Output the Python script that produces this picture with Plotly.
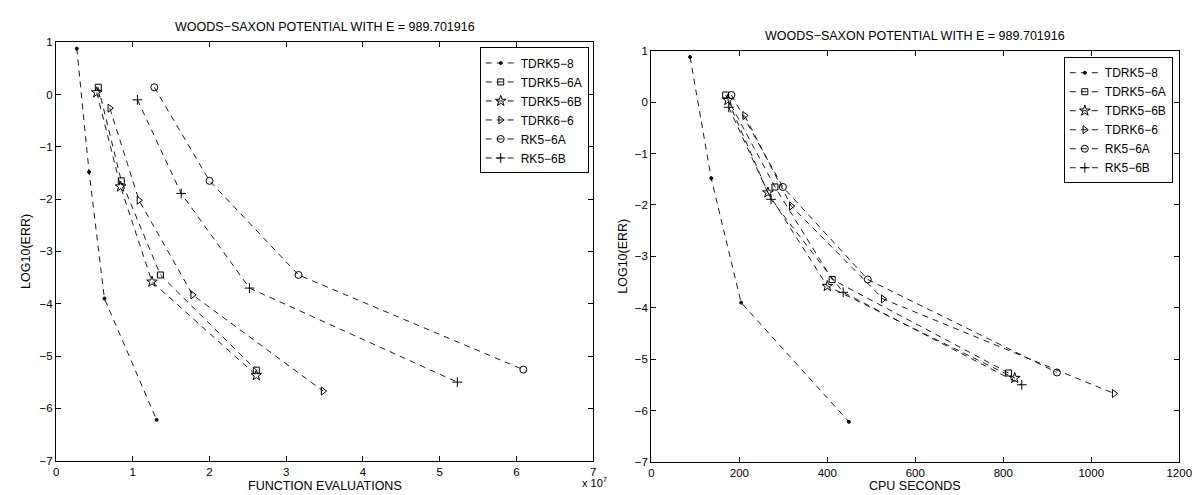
import plotly.graph_objects as go

# ---------------- data ----------------
methods = ["TDRK5−8", "TDRK5−6A", "TDRK5−6B", "TDRK6−6", "RK5−6A", "RK5−6B"]

# log10(error) values (same for both panels)
err_tdrk58 = [0.88, -1.48, -3.90, -6.22]
err_tdrk56a = [0.14, -1.65, -3.45, -5.27]
err_tdrk56b = [0.04, -1.76, -3.58, -5.37]
err_tdrk66 = [-0.26, -2.02, -3.83, -5.67]
err_rk56a = [0.14, -1.65, -3.45, -5.26]
err_rk56b = [-0.10, -1.89, -3.70, -5.50]

# function evaluations
fe_tdrk58 = [2.7e6, 4.3e6, 6.3e6, 13.1e6]
fe_tdrk56a = [5.5e6, 8.5e6, 13.6e6, 26.1e6]
fe_tdrk56b = [5.3e6, 8.4e6, 12.5e6, 26.1e6]
fe_tdrk66 = [7.0e6, 10.8e6, 17.8e6, 34.8e6]
fe_rk56a = [12.8e6, 20.0e6, 31.6e6, 60.9e6]
fe_rk56b = [10.6e6, 16.3e6, 25.2e6, 52.3e6]

# CPU seconds
cpu_tdrk58 = [88, 136, 204, 449]
cpu_tdrk56a = [169, 281, 411, 812]
cpu_tdrk56b = [174, 265, 400, 826]
cpu_tdrk66 = [212, 318, 527, 1052]
cpu_rk56a = [182, 299, 492, 922]
cpu_rk56b = [176, 272, 436, 842]

fe_tickvals = [0, 1e7, 2e7, 3e7, 4e7, 5e7, 6e7, 7e7]
fe_ticktext = ["0", "1", "2", "3", "4", "5", "6", "7"]
cpu_tickvals = [0, 200, 400, 600, 800, 1000, 1200]
y_tickvals = [1, 0, -1, -2, -3, -4, -5, -6, -7]
y_ticktext = ["1", "0", "−1", "−2", "−3", "−4", "−5", "−6", "−7"]

title_text = "WOODS−SAXON POTENTIAL WITH E = 989.701916"

errs = [err_tdrk58, err_tdrk56a, err_tdrk56b, err_tdrk66, err_rk56a, err_rk56b]
fes = [fe_tdrk58, fe_tdrk56a, fe_tdrk56b, fe_tdrk66, fe_rk56a, fe_rk56b]
cpus = [cpu_tdrk58, cpu_tdrk56a, cpu_tdrk56b, cpu_tdrk66, cpu_rk56a, cpu_rk56b]

# ---------------- styles ----------------
symbols = ["circle", "square-open", "star-open", "triangle-right-open", "circle-open", "cross-thin-open"]
sizes = [3, 6, 8, 7, 7, 7]
FONT = "Liberation Sans, Arial, Helvetica, sans-serif"
W, H = 1202, 495

fig = go.Figure()

for i, name in enumerate(methods):
    common = dict(
        mode="lines+markers",
        name=name,
        line=dict(color="black", width=0.9, dash="6px,5px"),
        marker=dict(symbol=symbols[i], size=sizes[i], color="black",
                    line=dict(color="black", width=1)),
    )
    fig.add_trace(go.Scatter(x=fes[i], y=errs[i], xaxis="x", yaxis="y",
                             legend="legend", **common))
    fig.add_trace(go.Scatter(x=cpus[i], y=errs[i], xaxis="x2", yaxis="y2",
                             legend="legend2", **common))

axis_common = dict(
    showgrid=False, zeroline=False, showline=True, linecolor="black", linewidth=1.2,
    mirror="allticks", ticks="inside", ticklen=5, tickcolor="black", tickwidth=1,
    tickfont=dict(family=FONT, size=11.5, color="black"),
)

fig.update_layout(
    width=W, height=H,
    margin=dict(l=0, r=0, t=0, b=0),
    paper_bgcolor="white", plot_bgcolor="white",
    font=dict(family=FONT, size=12.5, color="black"),
    xaxis=dict(domain=[45.7 / W, 590 / W], range=[0, 7e7], anchor="y",
               tickvals=fe_tickvals, ticktext=fe_ticktext, **axis_common),
    yaxis=dict(domain=[1 - 457.7 / H, 1 - 29 / H], range=[-7, 1], anchor="x",
               tickvals=y_tickvals, ticktext=y_ticktext, **axis_common),
    xaxis2=dict(domain=[649 / W, 1184 / W], range=[0, 1200], anchor="y2",
                tickvals=cpu_tickvals, **axis_common),
    yaxis2=dict(domain=[1 - 459 / H, 1 - 37.7 / H], range=[-7, 1], anchor="x2",
                tickvals=y_tickvals, ticktext=y_ticktext, **axis_common),
    legend=dict(x=585.5 / W, y=1 - 34.3 / H, xanchor="right", yanchor="top",
                bgcolor="white", bordercolor="black", borderwidth=1,
                font=dict(family=FONT, size=12, color="black"),
                tracegroupgap=0, itemwidth=30),
    legend2=dict(x=1177.5 / W, y=1 - 44.3 / H, xanchor="right", yanchor="top",
                 bgcolor="white", bordercolor="black", borderwidth=1,
                 font=dict(family=FONT, size=12, color="black"),
                 tracegroupgap=0, itemwidth=30),
    showlegend=True,
)

ann = []
ann.append(dict(text=title_text, x=318 / W, y=1 - 12.9 / H, xref="paper", yref="paper",
                showarrow=False, xanchor="center", yanchor="middle", font=dict(size=12.5)))
ann.append(dict(text=title_text, x=916.5 / W, y=1 - 23 / H, xref="paper", yref="paper",
                showarrow=False, xanchor="center", yanchor="middle", font=dict(size=12.5)))
ann.append(dict(text="FUNCTION EVALUATIONS", x=318 / W, y=1 - 484 / H, xref="paper", yref="paper",
                showarrow=False, xanchor="center", yanchor="middle", font=dict(size=12.5)))
ann.append(dict(text="CPU SECONDS", x=916.5 / W, y=1 - 484 / H, xref="paper", yref="paper",
                showarrow=False, xanchor="center", yanchor="middle", font=dict(size=12.5)))
ann.append(dict(text="LOG10(ERR)", x=15 / W, y=1 - 243 / H, xref="paper", yref="paper",
                showarrow=False, xanchor="center", yanchor="middle", textangle=-90, font=dict(size=12.5)))
ann.append(dict(text="LOG10(ERR)", x=620 / W, y=1 - 248 / H, xref="paper", yref="paper",
                showarrow=False, xanchor="center", yanchor="middle", textangle=-90, font=dict(size=12.5)))
ann.append(dict(text="x 10<sup>7</sup>", x=606 / W, y=1 - 480 / H, xref="paper", yref="paper",
                showarrow=False, xanchor="right", yanchor="middle", font=dict(size=11)))
fig.update_layout(annotations=ann)

fig.write_html("out.html")
